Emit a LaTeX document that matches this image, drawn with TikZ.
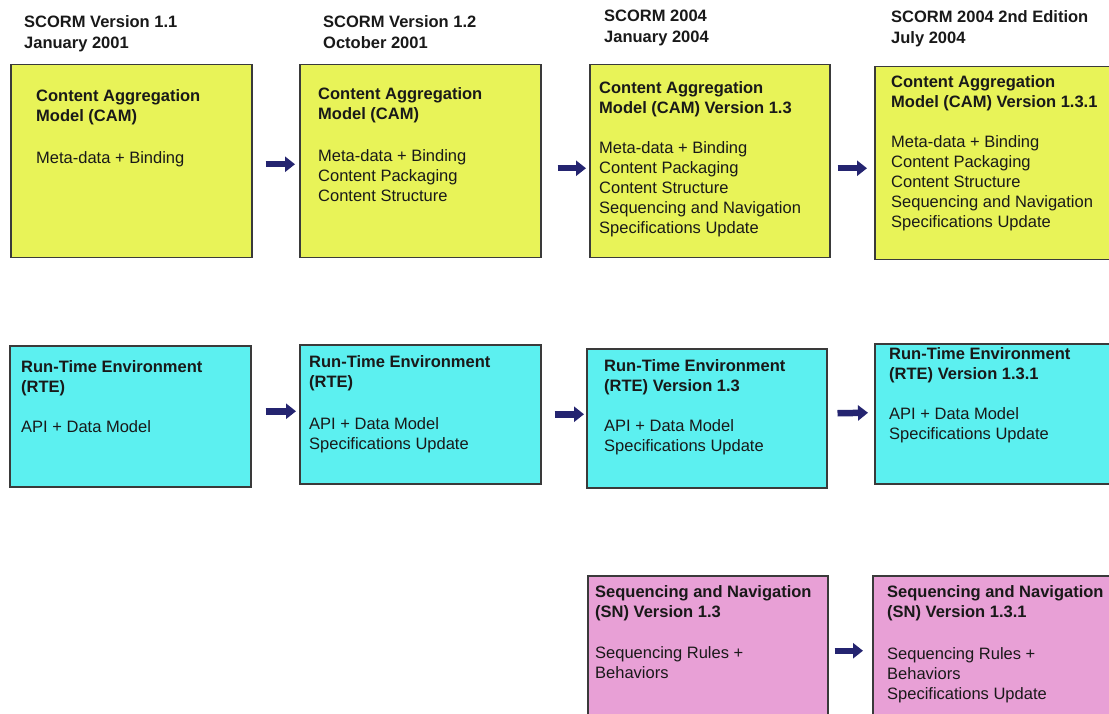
\documentclass[tikz,border=0pt]{standalone}
\usepackage{fontspec}
\setmainfont{Liberation Sans}
\usetikzlibrary{arrows.meta}
\definecolor{camfill}{RGB}{232,243,88}
\definecolor{rtefill}{RGB}{92,240,240}
\definecolor{snfill}{RGB}{232,160,214}
\definecolor{boxline}{RGB}{58,58,58}
\definecolor{arrowblue}{RGB}{36,36,112}
\definecolor{ink}{RGB}{25,25,25}
\tikzset{
  specbox/.style={draw=boxline, line width=1.5pt, inner sep=0pt, anchor=north west},
  spectext/.style={anchor=north west, inner sep=0pt, align=left, text=ink,
    font=\fontsize{16.5}{20}\selectfont},
  header/.style={anchor=north west, inner sep=0pt, align=left, text=ink,
    font=\fontsize{16.5}{21}\selectfont\bfseries},
  nextarrow/.style={draw=arrowblue, line width=6.5pt,
    -{Triangle[length=10pt,width=15pt]}},
}
\begin{document}
\begin{tikzpicture}[x=1pt, y=-1pt]
\useasboundingbox (0,0) rectangle (1109,714);
\clip (0,0) rectangle (1109,714);
\fill[white] (0,0) rectangle (1109,714);

% release headers
\node[header] (h1) at (24,15) {SCORM Version 1.1\\January 2001};
\node[header] (h2) at (323,15) {SCORM Version 1.2\\October 2001};
\node[header] (h3) at (604,10) {SCORM 2004\\January 2004};
\node[header] (h4) at (891,10) {SCORM 2004 2nd Edition\\July 2004};

% Content Aggregation Model row
\node[specbox, fill=camfill, minimum width=241pt, minimum height=193pt] (c1) at (10,64) {};
\node[specbox, fill=camfill, minimum width=241pt, minimum height=193pt] (c2) at (299,64) {};
\node[specbox, fill=camfill, minimum width=240pt, minimum height=193pt] (c3) at (589,64) {};
\node[specbox, fill=camfill, minimum width=260pt, minimum height=193pt] (c4) at (874,66) {};

\node[spectext] (c1t) at (36,89) {\textbf{Content Aggregation}\\\textbf{Model (CAM)}\\[22pt]Meta-data + Binding};
\node[spectext] (c2t) at (318,87) {\textbf{Content Aggregation}\\\textbf{Model (CAM)}\\[22pt]Meta-data + Binding\\Content Packaging\\Content Structure};
\node[spectext] (c3t) at (599,81) {\textbf{Content Aggregation}\\\textbf{Model (CAM) Version 1.3}\\[20pt]Meta-data + Binding\\Content Packaging\\Content Structure\\Sequencing and Navigation\\Specifications Update};
\node[spectext] (c4t) at (891,75) {\textbf{Content Aggregation}\\\textbf{Model (CAM) Version 1.3.1}\\[20pt]Meta-data + Binding\\Content Packaging\\Content Structure\\Sequencing and Navigation\\Specifications Update};

% Run-Time Environment row
\node[specbox, fill=rtefill, minimum width=241pt, minimum height=141pt] (r1) at (9,345) {};
\node[specbox, fill=rtefill, minimum width=241pt, minimum height=139pt] (r2) at (299,344) {};
\node[specbox, fill=rtefill, minimum width=240pt, minimum height=139pt] (r3) at (586,348) {};
\node[specbox, fill=rtefill, minimum width=260pt, minimum height=140pt] (r4) at (874,343) {};

\node[spectext] (r1t) at (21,360) {\textbf{Run-Time Environment}\\\textbf{(RTE)}\\[20pt]API + Data Model};
\node[spectext] (r2t) at (309,355) {\textbf{Run-Time Environment}\\\textbf{(RTE)}\\[22pt]API + Data Model\\Specifications Update};
\node[spectext] (r3t) at (604,359) {\textbf{Run-Time Environment}\\\textbf{(RTE) Version 1.3}\\[20pt]API + Data Model\\Specifications Update};
\node[spectext] (r4t) at (889,347) {\textbf{Run-Time Environment}\\\textbf{(RTE) Version 1.3.1}\\[20pt]API + Data Model\\Specifications Update};

% Sequencing and Navigation row
\node[specbox, fill=snfill, minimum width=240pt, minimum height=160pt] (s3) at (587,575) {};
\node[specbox, fill=snfill, minimum width=260pt, minimum height=160pt] (s4) at (872,575) {};

\node[spectext] (s3t) at (595,585) {\textbf{Sequencing and Navigation}\\\textbf{(SN) Version 1.3}\\[21pt]Sequencing Rules +\\Behaviors};
\node[spectext] (s4t) at (887,585) {\textbf{Sequencing and Navigation}\\\textbf{(SN) Version 1.3.1}\\[22pt]Sequencing Rules +\\Behaviors\\Specifications Update};

% evolution arrows between successive releases
\draw[nextarrow] ([xshift=13pt,yshift=-3pt]c1.east) -- ([xshift=-4pt,yshift=-3pt]c2.west);
\draw[nextarrow] ([xshift=16pt,yshift=-7pt]c2.east) -- ([xshift=-3pt,yshift=-7pt]c3.west);
\draw[nextarrow] ([xshift=7pt,yshift=-7pt]c3.east) -- ([xshift=-7pt,yshift=-5pt]c4.west);

\draw[nextarrow] ([xshift=14pt,yshift=5pt]r1.east) -- ([xshift=-3pt,yshift=3pt]r2.west);
\draw[nextarrow] ([xshift=13pt,yshift=0pt]r2.east) -- ([xshift=-2pt,yshift=4pt]r3.west);
\draw[nextarrow] ([xshift=10pt,yshift=5pt]r3.east) -- ([xshift=-6pt,yshift=1pt]r4.west);

\draw[nextarrow] ([xshift=6pt,yshift=5pt]s3.east) -- ([xshift=-9pt,yshift=5pt]s4.west);
\end{tikzpicture}
\end{document}
